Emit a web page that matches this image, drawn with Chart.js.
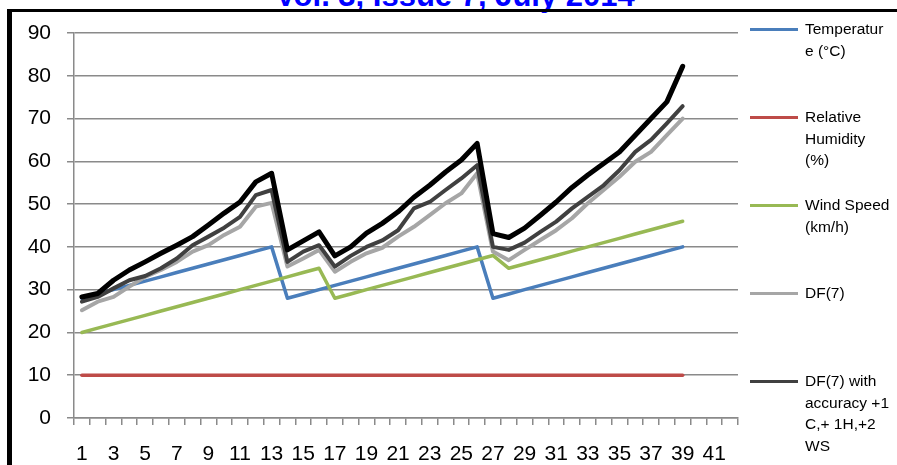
<!DOCTYPE html>
<html>
<head>
<meta charset="utf-8">
<title>DF(7)</title>
<script src="https://cdn.jsdelivr.net/npm/chart.js@4.4.1/dist/chart.umd.min.js"></script>
<style>
    body { margin: 0; background: #fff; }
    #wrap { position: relative; width: 897px; height: 465px; overflow: hidden; font-family: "Liberation Sans", Arial, sans-serif; }
    #issue { position: absolute; left: 0; width: 910px; top: -20px; text-align: center; font: bold 31px/31px "Liberation Sans", Arial, sans-serif; color: #0000ff; white-space: nowrap; }
    #frame { position: absolute; left: 7px; top: 9px; right: -10px; bottom: -10px; border-left: 5px solid #000; border-top: 3px solid #000; }
    #chart { position: absolute; left: 0; top: 0; }
    #legend { position: absolute; left: 750px; top: 0; width: 147px; height: 465px; }
    .legend-item { position: absolute; left: 0; width: 147px; }
    .legend-line { position: absolute; left: 0; width: 48px; height: 3px; }
    .legend-text { position: absolute; left: 55px; font-size: 15.5px; line-height: 21.7px; white-space: pre; color: #000; }
</style>
</head>
<body>
<div id="wrap">
    <div id="issue">Vol. 3, Issue 7, July 2014</div>
    <div id="frame"></div>
    <canvas id="chart" width="897" height="465"></canvas>
    <div id="legend"></div>
</div>
<script>
// Day numbers on the x axis (1..42), data runs to day 39
const days = [];
for (let d = 1; d <= 42; d++) days.push(String(d));

const temperature = [28, 29, 30, 31, 32, 33, 34, 35, 36, 37, 38, 39, 40,
    28, 29, 30, 31, 32, 33, 34, 35, 36, 37, 38, 39, 40,
    28, 29, 30, 31, 32, 33, 34, 35, 36, 37, 38, 39, 40];

const humidity = [10, 10, 10, 10, 10, 10, 10, 10, 10, 10, 10, 10, 10,
    10, 10, 10, 10, 10, 10, 10, 10, 10, 10, 10, 10, 10,
    10, 10, 10, 10, 10, 10, 10, 10, 10, 10, 10, 10, 10];

const windSpeed = [20, 21, 22, 23, 24, 25, 26, 27, 28, 29, 30, 31, 32, 33, 34, 35,
    28, 29, 30, 31, 32, 33, 34, 35, 36, 37, 38,
    35, 36, 37, 38, 39, 40, 41, 42, 43, 44, 45, 46];

const df7 = [25.2, 27.2, 28.3, 30.7, 33, 34.6, 36.5, 38.9, 40.4, 42.8, 44.7, 49.4, 50.3,
    35.4, 37.3, 39.3, 34.2, 36.5, 38.5, 39.8, 42.4, 44.7, 47.4, 50.2, 52.5, 57.2,
    38.9, 36.9, 39.3, 41.6, 43.9, 46.7, 50.2, 53.3, 56.4, 59.9, 62.2, 66.1, 70];

const df7Accuracy = [27.2, 28.3, 30.3, 32.2, 33.2, 35, 37.3, 40.4, 42.4, 44.5, 47, 52.1, 53.3,
    36.5, 38.9, 40.4, 35.4, 37.9, 40, 41.5, 43.9, 49, 50.5, 53.3, 56, 59.1,
    40, 39.3, 41, 43.5, 45.9, 49, 51.7, 54.4, 57.9, 62.2, 65, 68.9, 72.9];

const df7Upper = [28.3, 29.1, 32.2, 34.6, 36.5, 38.5, 40.4, 42.4, 45.1, 47.9, 50.5, 55.2, 57.2,
    39.3, 41.4, 43.5, 37.9, 40, 43.2, 45.5, 48.2, 51.6, 54.4, 57.5, 60.3, 64.2,
    43.1, 42.2, 44.4, 47.4, 50.5, 53.9, 56.8, 59.5, 62.2, 66.1, 70, 73.9, 82.2];

const yTicks = [0, 10, 20, 30, 40, 50, 60, 70, 80, 90];

const GRID = '#8a8a8a';

document.addEventListener('DOMContentLoaded', function() {
    const chart = initChart();
    buildLegend(chart);
});

/**
 * Build one line dataset
 */
function series(label, data, color, width, order, inLegend) {
    return {
        label: label,
        data: data,
        borderColor: color,
        backgroundColor: color,
        borderWidth: width,
        pointRadius: 0,
        tension: 0,
        borderJoinStyle: 'round',
        borderCapStyle: 'round',
        fill: false,
        order: order,
        inLegend: inLegend
    };
}

/**
 * Create the line chart
 */
function initChart() {
    const ctx = document.getElementById('chart');

    return new Chart(ctx, {
        type: 'line',
        data: {
            labels: days,
            datasets: [
                series('Temperatur\ne (°C)', temperature, '#4a7ebb', 3.5, 5, true),
                series('Relative\nHumidity\n(%)', humidity, '#be4b48', 3.5, 4, true),
                series('Wind Speed\n(km/h)', windSpeed, '#98b954', 3.5, 3, true),
                series('DF(7)', df7, '#a6a6a6', 4, 2, true),
                series('DF(7) with\naccuracy +1\nC,+ 1H,+2\nWS', df7Accuracy, '#404040', 4, 1, true),
                series('', df7Upper, '#000000', 5, 0, false)
            ]
        },
        options: {
            responsive: false,
            animation: false,
            layout: {
                padding: { left: 0, top: 33, right: 159, bottom: 0 }
            },
            plugins: {
                legend: { display: false },
                tooltip: { enabled: false }
            },
            scales: {
                x: {
                    offset: true,
                    grid: {
                        offset: true,
                        drawOnChartArea: false,
                        drawTicks: true,
                        tickLength: 7,
                        color: GRID,
                        lineWidth: 1.5
                    },
                    border: { color: GRID, width: 1.5 },
                    ticks: {
                        autoSkip: false,
                        maxRotation: 0,
                        minRotation: 0,
                        padding: 17,
                        color: '#000',
                        font: { family: '"Liberation Sans", Arial, sans-serif', size: 21 },
                        callback: function(value, index) {
                            return index % 2 === 0 ? days[index] : '';
                        }
                    },
                    afterFit: function(scale) { scale.height = 47; }
                },
                y: {
                    min: 0,
                    max: 90,
                    afterBuildTicks: function(scale) {
                        scale.ticks = yTicks.map(v => ({ value: v }));
                    },
                    grid: {
                        color: GRID,
                        lineWidth: 1.5,
                        tickLength: 7
                    },
                    border: { color: GRID, width: 1.5 },
                    ticks: {
                        padding: 16,
                        color: '#000',
                        font: { family: '"Liberation Sans", Arial, sans-serif', size: 21 }
                    },
                    afterFit: function(scale) { scale.width = 74; }
                }
            }
        }
    });
}

/**
 * Legend on the right, one block per series
 */
function buildLegend(chart) {
    const legend = document.getElementById('legend');
    let slot = 0;

    chart.data.datasets.forEach(ds => {
        if (!ds.inLegend) return;

        const top = 18 + slot * 88;
        const item = document.createElement('div');
        item.className = 'legend-item';
        item.style.top = top + 'px';

        const line = document.createElement('div');
        line.className = 'legend-line';
        line.style.top = '9.5px';
        line.style.background = ds.borderColor;

        const text = document.createElement('div');
        text.className = 'legend-text';
        text.style.top = '0px';
        text.textContent = ds.label;

        item.appendChild(line);
        item.appendChild(text);
        legend.appendChild(item);
        slot++;
    });
}
</script>
</body>
</html>
